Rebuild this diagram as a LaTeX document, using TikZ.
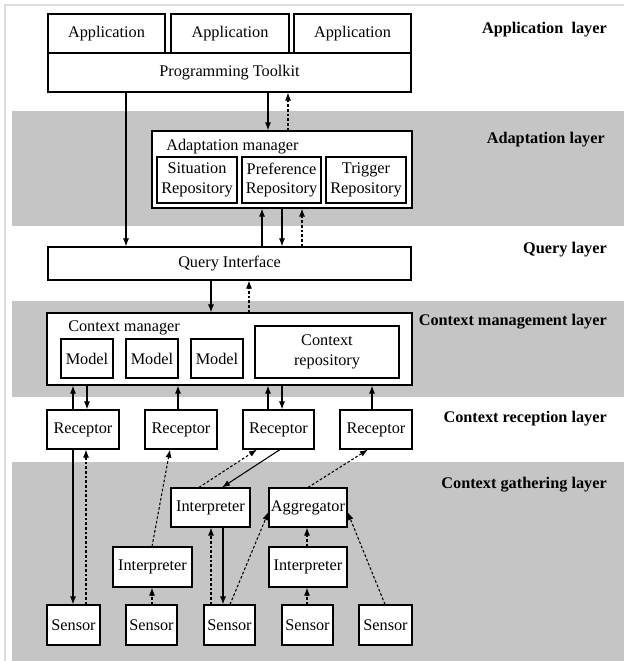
\documentclass[tikz,border=0pt]{standalone}
\usepackage{fontspec}
\setmainfont{Liberation Serif}
\usetikzlibrary{arrows.meta,fit}
\definecolor{bandgray}{RGB}{197,197,197}
\definecolor{framegray}{RGB}{220,220,220}
\begin{document}
\begin{tikzpicture}[x=0.75pt,y=-0.75pt,
  box/.style={draw=black, fill=white, line width=0.85pt, inner sep=0pt},
  txt/.style={font=\fontsize{12.2}{14.8}\selectfont, align=center, inner sep=0pt},
  lbl/.style={font=\fontsize{12.2}{14.8}\selectfont\bfseries, anchor=east, inner sep=0pt},
  ttl/.style={font=\fontsize{12.2}{14.8}\selectfont, anchor=west, inner sep=0pt},
  conn/.style={line width=0.8pt, -{Latex[length=6pt,width=4.5pt]}},
  dconn/.style={conn, dash pattern=on 2pt off 1.5pt},
]
\useasboundingbox (0,0) rectangle (624,661);
\fill[white] (0,0) rectangle (624,661);
\draw[framegray, line width=0.8pt] (5,661) -- (5,5) -- (624,5);

% layer bands
\fill[bandgray] (12,111) rectangle (624,226);
\fill[bandgray] (12,301) rectangle (624,397);
\fill[bandgray] (12,462) rectangle (624,661);

% layer labels
\node[lbl] (lapp) at (607,30) {Application\ \ layer};
\node[lbl] (ladp) at (605,140) {Adaptation layer};
\node[lbl] (lqry) at (607,250) {Query layer};
\node[lbl] (lcm)  at (607,322) {Context management layer};
\node[lbl] (lrec) at (607,419) {Context reception layer};
\node[lbl] (lgat) at (607,485) {Context gathering layer};

% application layer
\node[box, fit={(48,14) (165,53)}, label={[txt]center:Application}] (app1) {};
\node[box, fit={(171,14) (289,53)}, label={[txt]center:Application}] (app2) {};
\node[box, fit={(294,14) (411,53)}, label={[txt]center:Application}] (app3) {};
\node[box, fit={(48,53) (411,92)}, label={[txt]center:Programming Toolkit}] (tk) {};

% adaptation layer
\node[box, fit={(152,131) (412,208)}] (am) {};
\node[ttl] (amt) at (166,147) {Adaptation manager};
\node[box, fit={(157,157) (237,203)}, label={[txt]center:Situation\\Repository}] (sit) {};
\node[box, fit={(242,157) (321,203)}, label={[txt]center:Preference\\Repository}] (pref) {};
\node[box, fit={(326,157) (406,203)}, label={[txt]center:Trigger\\Repository}] (trig) {};

% query layer
\node[box, fit={(48,247) (411,280)}, label={[txt]center:Query Interface}] (qi) {};

% context management layer
\node[box, fit={(47,313) (412,385)}] (cm) {};
\node[ttl] (cmt) at (68,328) {Context manager};
\node[box, fit={(61,339) (113,378)}, label={[txt]center:Model}] (m1) {};
\node[box, fit={(126,339) (178,378)}, label={[txt]center:Model}] (m2) {};
\node[box, fit={(191,339) (243,378)}, label={[txt]center:Model}] (m3) {};
\node[box, fit={(255,326) (399,378)}, label={[txt]center:Context\\repository}] (crep) {};

% reception layer
\node[box, fit={(47,410) (119,449)}, label={[txt]center:Receptor}] (r1) {};
\node[box, fit={(145,410) (217,449)}, label={[txt]center:Receptor}] (r2) {};
\node[box, fit={(243,410) (314,449)}, label={[txt]center:Receptor}] (r3) {};
\node[box, fit={(340,410) (412,449)}, label={[txt]center:Receptor}] (r4) {};

% gathering layer
\node[box, fit={(171,488) (250,527)}, label={[txt]center:Interpreter}] (it) {};
\node[box, fit={(269,488) (347,527)}, label={[txt]center:Aggregator}] (agg) {};
\node[box, fit={(113,547) (192,587)}, label={[txt]center:Interpreter}] (il) {};
\node[box, fit={(269,547) (347,587)}, label={[txt]center:Interpreter}] (ir) {};
\node[box, fit={(47,605) (100,645)}, label={[txt]center:Sensor}] (s1) {};
\node[box, fit={(126,605) (177,645)}, label={[txt]center:Sensor}] (s2) {};
\node[box, fit={(204,605) (255,645)}, label={[txt]center:Sensor}] (s3) {};
\node[box, fit={(282,605) (333,645)}, label={[txt]center:Sensor}] (s4) {};
\node[box, fit={(359,605) (412,645)}, label={[txt]center:Sensor}] (s5) {};

% connectors: application / adaptation / query
\draw[conn] (tk.south -| 126,0) -- (qi.north -| 126,0);
\draw[conn] (tk.south -| 268,0) -- (am.north -| 268,0);
\draw[dconn] (am.north -| 288,0) -- (tk.south -| 288,0);
\draw[conn] (qi.north -| 262,0) -- (am.south -| 262,0);
\draw[conn] (am.south -| 282,0) -- (qi.north -| 282,0);
\draw[dconn] (qi.north -| 302,0) -- (am.south -| 302,0);
\draw[conn] (qi.south -| 211,0) -- (cm.north -| 211,0);
\draw[dconn] (cm.north -| 249,0) -- (qi.south -| 249,0);

% context manager / receptors
\draw[conn] (r1.north -| 73,0) -- (cm.south -| 73,0);
\draw[conn] (cm.south -| 87,0) -- (r1.north -| 87,0);
\draw[conn] (r2.north -| 178,0) -- (cm.south -| 178,0);
\draw[conn] (r3.north -| 268,0) -- (cm.south -| 268,0);
\draw[conn] (cm.south -| 282,0) -- (r3.north -| 282,0);
\draw[conn] (r4.north -| 372,0) -- (cm.south -| 372,0);

% receptors / gathering
\draw[conn] (r1.south -| 73,0) -- (s1.north -| 73,0);
\draw[dconn] (s1.north -| 86,0) -- (r1.south -| 86,0);
\draw[dconn] (il.north -| 152,0) -- (r2.south -| 170,0);
\draw[dconn] (s2.north -| 152,0) -- (il.south -| 152,0);
\draw[dconn] (it.north -| 199,0) -- (r3.south -| 257,0);
\draw[conn] (r3.south -| 280,0) -- (it.north -| 222,0);
\draw[dconn] (agg.north -| 308,0) -- (r4.south -| 368,0);
\draw[dconn] (s3.north -| 211,0) -- (it.south -| 211,0);
\draw[conn] (it.south -| 223,0) -- (s3.north -| 223,0);
\draw[dconn] (s3.north -| 230,0) -- (agg.west |- 0,512);
\draw[dconn] (ir.north -| 307,0) -- (agg.south -| 307,0);
\draw[dconn] (s4.north -| 307,0) -- (ir.south -| 307,0);
\draw[dconn] (s5.north -| 385,0) -- (agg.east |- 0,512);
\end{tikzpicture}
\end{document}
